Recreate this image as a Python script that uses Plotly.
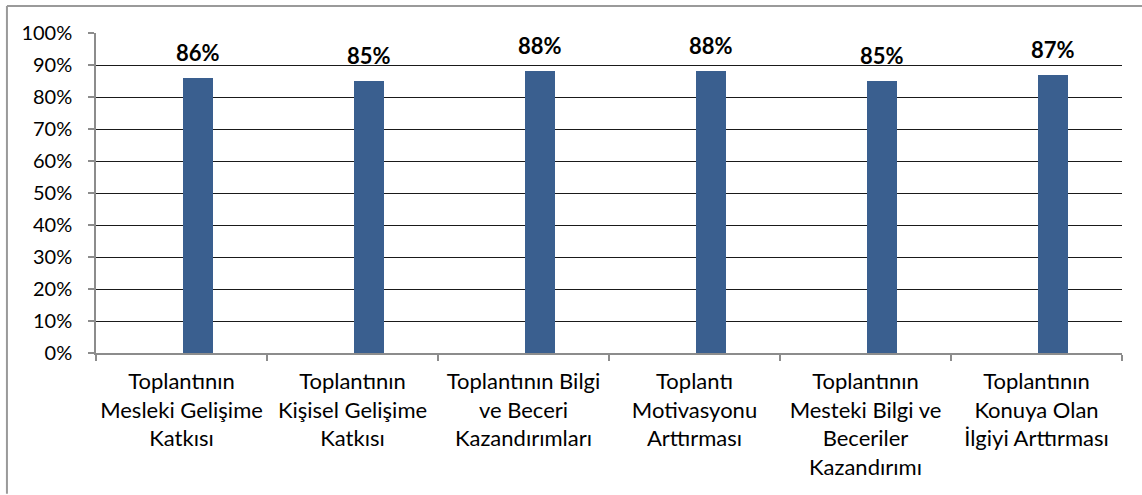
import plotly.graph_objects as go

categories = [
    "Toplantının<br>Mesleki Gelişime<br>Katkısı",
    "Toplantının<br>Kişisel Gelişime<br>Katkısı",
    "Toplantının Bilgi<br>ve Beceri<br>Kazandırımları",
    "Toplantı<br>Motivasyonu<br>Arttırması",
    "Toplantının<br>Mesteki Bilgi ve<br>Beceriler<br>Kazandırımı",
    "Toplantının<br>Konuya Olan<br>İlgiyi Arttırması",
]
values = [0.86, 0.85, 0.88, 0.88, 0.85, 0.87]
labels = ["86%", "85%", "88%", "88%", "85%", "87%"]

FONT = "Lato, 'Open Sans', sans-serif"

fig = go.Figure()
fig.add_trace(go.Bar(
    x=categories, y=values,
    marker=dict(color="#3A5F8F", line=dict(width=0)),
    width=0.176, offset=0.01,
    hoverinfo="skip",
))

for c, v, t in zip(categories, values, labels):
    fig.add_annotation(
        x=c, y=v, text="<b>" + t + "</b>", showarrow=False,
        xanchor="center", yanchor="bottom", xshift=16, yshift=10,
        font=dict(family=FONT, size=22, color="#000000"),
    )

# outer chart border
fig.add_shape(type="line", xref="paper", yref="paper",
              x0=-0.0868, x1=-0.0868, y0=-0.44, y1=1.084,
              line=dict(color="#9a9a9a", width=2))
fig.add_shape(type="line", xref="paper", yref="paper",
              x0=-0.0868, x1=1.05, y0=1.084, y1=1.084,
              line=dict(color="#9a9a9a", width=2))

fig.update_layout(
    width=1142, height=495,
    margin=dict(l=96, r=20, t=33, b=142, autoexpand=False),
    paper_bgcolor="white", plot_bgcolor="white",
    showlegend=False,
    bargap=0,
    font=dict(family=FONT, size=22, color="#000000"),
    xaxis=dict(
        type="category", automargin=False, tickangle=0,
        showline=True, linecolor="#8c8c8c", linewidth=1.5,
        ticks="outside", tickson="boundaries", ticklen=6,
        tickcolor="#8c8c8c", tickwidth=1.5,
        showgrid=False,
        ticklabelstandoff=8,
        tickfont=dict(family=FONT, size=22, color="#000000"),
    ),
    yaxis=dict(
        range=[0, 1], dtick=0.1, tickformat=".0%", automargin=False,
        showline=True, linecolor="#8c8c8c", linewidth=1.5,
        ticks="outside", ticklen=6, tickcolor="#8c8c8c", tickwidth=1.5,
        showgrid=True, gridcolor="#1a1a1a", gridwidth=1.3,
        zeroline=False,
        ticklabelstandoff=12,
        tickfont=dict(family=FONT, size=20, color="#000000"),
    ),
)

fig.write_html("out.html",
               config={"displayModeBar": False},
               post_script="document.body.style.margin='0';document.body.style.padding='0';")
